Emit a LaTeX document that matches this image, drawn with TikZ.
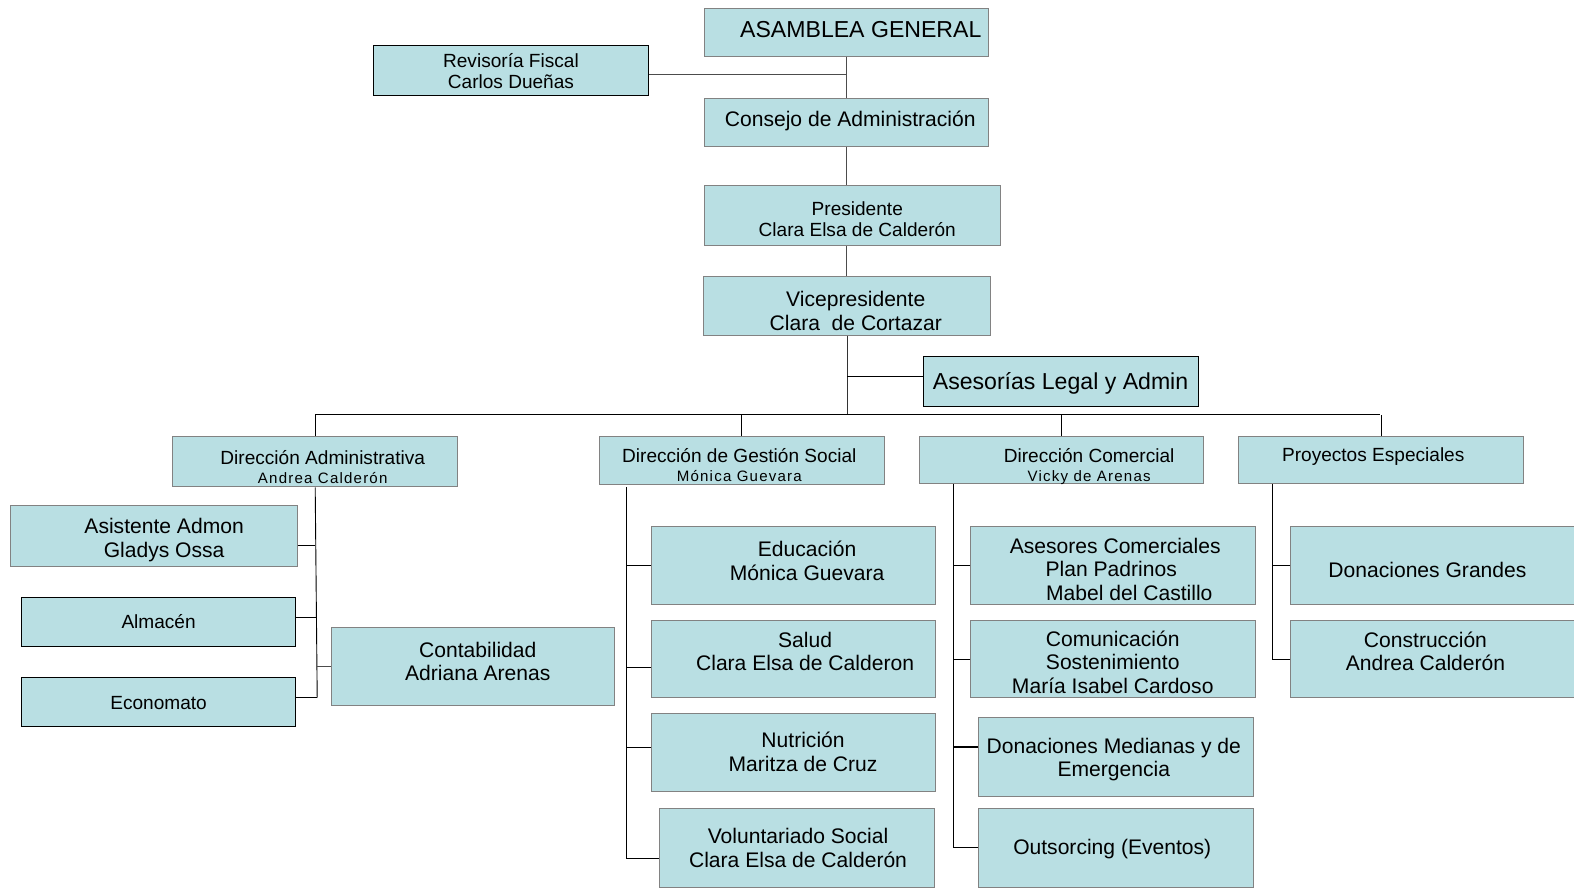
\documentclass[tikz,border=0pt]{standalone}
\usepackage{fontspec}
\setmainfont{Liberation Sans}
\definecolor{boxfill}{RGB}{185,223,227}
\definecolor{boxline}{RGB}{130,130,130}
\begin{document}
\begin{tikzpicture}[x=1pt,y=-1pt,
  box/.style={draw=boxline, fill=boxfill, line width=0.9pt, inner sep=0pt},
  dark/.style={draw=black},
  txt/.style={align=center, inner sep=0pt},
  fA/.style={font=\fontsize{23}{26}\selectfont},
  fB/.style={font=\fontsize{21}{23.5}\selectfont},
  fC/.style={font=\fontsize{19}{21}\selectfont},
  link/.style={draw=black, line width=0.9pt}]
\useasboundingbox (0,0) rectangle (1568,888);
\clip (0,0) rectangle (1568,888);
\newcommand{\subt}[1]{{\fontsize{15}{17}\selectfont\addfontfeature{LetterSpace=8}#1}}

% ---------- boxes ----------
\node[box, minimum width=283, minimum height=48] (asam) at (843.5,32) {};
\node[box, dark, minimum width=274, minimum height=50] (rev) at (509,70) {};
\node[box, minimum width=283, minimum height=48] (cons) at (843.5,122) {};
\node[box, minimum width=295, minimum height=60] (pres) at (849.5,215) {};
\node[box, minimum width=286, minimum height=59] (vice) at (844,304.5) {};
\node[box, dark, minimum width=274, minimum height=50] (ases) at (1057,380) {};

\node[box, minimum width=284, minimum height=50] (dadm) at (314,460) {};
\node[box, minimum width=284, minimum height=48] (dges) at (739,459) {};
\node[box, minimum width=283, minimum height=47] (dcom) at (1057.5,458.5) {};
\node[box, minimum width=284, minimum height=47] (proy) at (1376,458.5) {};

\node[box, minimum width=286, minimum height=60] (asis) at (153,534) {};
\node[box, dark, minimum width=273, minimum height=49] (alm) at (157.5,619.5) {};
\node[box, dark, minimum width=273, minimum height=49] (econ) at (157.5,699.5) {};
\node[box, minimum width=282, minimum height=78] (cont) at (471,664) {};

\node[box, minimum width=283, minimum height=78] (edu) at (790.5,563) {};
\node[box, minimum width=283, minimum height=77] (salud) at (790.5,656.5) {};
\node[box, minimum width=283, minimum height=77] (nut) at (790.5,749.5) {};
\node[box, minimum width=274, minimum height=79] (vol) at (794,844.5) {};

\node[box, minimum width=284, minimum height=78] (asesc) at (1109,563) {};
\node[box, minimum width=284, minimum height=77] (comu) at (1109,656.5) {};
\node[box, minimum width=274, minimum height=78] (donm) at (1112,754) {};
\node[box, minimum width=274, minimum height=79] (outs) at (1112,844.5) {};

\node[box, minimum width=289, minimum height=78] (dong) at (1430.5,563) {};
\node[box, minimum width=289, minimum height=77] (constr) at (1430.5,656.5) {};

% ---------- texts ----------
\node[txt, fA] (asamT) at (857.5,29) {ASAMBLEA GENERAL};
\node[txt, fC] (revT) at (509,71) {Revisoría Fiscal\\Carlos Dueñas};
\node[txt, fB] (consT) at (847,120) {Consejo de Administración};
\node[txt, fC] (presT) at (854,218) {Presidente\\Clara Elsa de Calderón};
\node[txt, fB] (viceT) at (852.5,309.5) {Vicepresidente\\Clara\ \ de Cortazar};
\node[txt, fA] (asesT) at (1056.5,382) {Asesorías Legal y Admin};

\node[txt, fC] (dadmT) at (321.5,465) {Dirección Administrativa\\[-2pt]\subt{Andrea Calderón}};
\node[txt, fC] (dgesT) at (736.5,463.5) {Dirección de Gestión Social\\[-2pt]\subt{Mónica Guevara}};
\node[txt, fC] (dcomT) at (1085,464.5) {Dirección Comercial\\[-2pt]\subt{Vicky de Arenas}};
\node[txt, fC] (proyT) at (1368,454.5) {Proyectos Especiales};

\node[txt, fB] (asisT) at (163.5,538) {Asistente Admon\\Gladys Ossa};
\node[txt, fC] (almT) at (158,619.5) {Almacén};
\node[txt, fC] (econT) at (158,700.5) {Economato};
\node[txt, fB] (contT) at (476,659) {Contabilidad\\Adriana Arenas};

\node[txt, fB] (eduT) at (804,558.5) {Educación\\Mónica Guevara};
\node[txt, fB] (saludT) at (802,649) {Salud\\Clara Elsa de Calderon};
\node[txt, fB] (nutT) at (800,749) {Nutrición\\Maritza de Cruz};
\node[txt, fB] (volT) at (795,844.5) {Voluntariado Social\\Clara Elsa de Calderón};

\node[txt, fB] (asescT) at (1111,567) {Asesores Comerciales\\\hspace*{-8pt}Plan Padrinos\\\hspace*{28pt}Mabel del Castillo};
\node[txt, fB] (comuT) at (1108.5,659.5) {Comunicación\\Sostenimiento\\María Isabel Cardoso};
\node[txt, fB] (donmT) at (1109.5,756.5) {Donaciones Medianas y de\\Emergencia};
\node[txt, fB] (outsT) at (1108,845.5) {Outsorcing (Eventos)};

\node[txt, fB] (dongT) at (1422,567.5) {Donaciones Grandes};
\node[txt, fB] (constrT) at (1420,649) {Construcción\\Andrea Calderón};

% ---------- connectors: spine ----------
\coordinate (busL) at (314,413);
\coordinate (busR) at (1375,413);
\draw[link, draw=black!70] (asam.south) -- (cons.north);
\draw[link, draw=black!70] (cons.south) -- (cons.south |- pres.north);
\draw[link, draw=black!70] (pres.south -| cons.south) -- (vice.north -| cons.south);
\draw[link, draw=black!80] (vice.south) -- (vice.south |- busL);
\coordinate (revc) at ([yshift=-4pt]rev.east);
\draw[link, draw=black!70] (revc) -- (revc -| asam.south);
\coordinate (asesc0) at ([yshift=5pt]ases.west);
\draw[link] (asesc0) -- (asesc0 -| vice.south);
\draw[link] (busL) -- (busR);
\draw[link] (dadm.north) -- (dadm.north |- busL);
\draw[link] (dges.north) -- (dges.north |- busL);
\draw[link] (dcom.north) -- (dcom.north |- busL);
\draw[link] (proy.north) -- (proy.north |- busL);

% ---------- administrativa branch ----------
\coordinate (adTop) at (dadm.south);
\coordinate (adBot) at (316,695);
\draw[link] (adTop) -- (adBot);
\coordinate (a1) at ([yshift=-9pt]asis.east);
\draw[link] (a1) -- (a1 -| adTop);
\coordinate (a2) at ([yshift=4.5pt]alm.east);
\draw[link] (a2) -- (a2 -| adBot);
\coordinate (a3) at ([yshift=4.5pt]econ.east);
\draw[link] (a3) -- (a3 -| adBot);
\draw[link, draw=black!70] (cont.west) -- (cont.west -| adBot);

% ---------- gestion social branch ----------
\coordinate (gsTop) at (624,485);
\coordinate (gsBot) at (624,855);
\draw[link] (gsTop) -- (gsBot);
\draw[link] (edu.west) -- (edu.west -| gsTop);
\coordinate (g2) at ([yshift=-8.5pt]salud.west);
\draw[link] (g2) -- (g2 -| gsTop);
\coordinate (g3) at ([yshift=4.5pt]nut.west);
\draw[link] (g3) -- (g3 -| gsTop);
\coordinate (g4) at ([yshift=-10.5pt]vol.west);
\draw[link] (g4) -- (g4 -| gsTop);

% ---------- comercial branch ----------
\coordinate (cmTop) at (950,482);
\coordinate (cmBot) at (950,845);
\draw[link] (cmTop) -- (cmBot);
\draw[link] (asesc.west) -- (asesc.west -| cmTop);
\draw[link] (comu.west) -- (comu.west -| cmTop);
\coordinate (c3) at ([yshift=10pt]donm.west);
\draw[link, line width=1.6pt] (c3) -- (c3 -| cmTop);
\draw[link] (outs.west) -- (outs.west -| cmTop);

% ---------- proyectos branch ----------
\coordinate (prTop) at (1268,482);
\coordinate (prBot) at (1268,657);
\draw[link] (prTop) -- (prBot);
\draw[link] (dong.west) -- (dong.west -| prTop);
\draw[link] (constr.west) -- (constr.west -| prTop);
\end{tikzpicture}
\end{document}
